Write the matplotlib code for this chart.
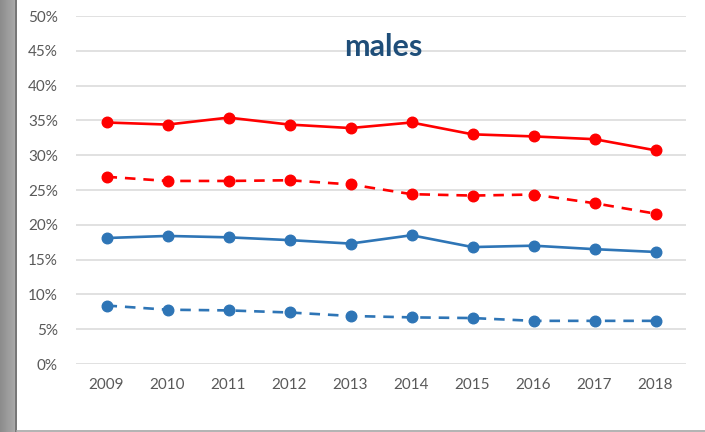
import matplotlib.pyplot as plt
import numpy as np

years = ["2009", "2010", "2011", "2012", "2013", "2014", "2015", "2016", "2017", "2018"]

red_solid = [34.7, 34.4, 35.4, 34.4, 33.9, 34.7, 33.0, 32.7, 32.3, 30.7]
red_dashed = [26.9, 26.3, 26.3, 26.4, 25.8, 24.4, 24.2, 24.35, 23.1, 21.6]
blue_solid = [18.1, 18.4, 18.2, 17.8, 17.3, 18.5, 16.8, 17.0, 16.5, 16.1]
blue_dashed = [8.4, 7.8, 7.7, 7.4, 6.9, 6.7, 6.6, 6.2, 6.2, 6.2]

yticks = [0, 5, 10, 15, 20, 25, 30, 35, 40, 45, 50]

plt.rcParams['font.family'] = ['Lato', 'DejaVu Sans']

fig = plt.figure(figsize=(7.05, 4.32), dpi=100)

# grey strip on the left edge
strip = fig.add_axes([0, 0, 17 / 705, 1])
grad = np.linspace(0.55, 0.68, 50).reshape(1, -1)
strip.imshow(grad, aspect="auto", cmap="gray", vmin=0, vmax=1, extent=[0, 1, 0, 1])
strip.axvline(0.97, color="#6e6e6e", lw=1.2)
strip.axis("off")

# bottom border
fig.add_artist(plt.Line2D([17 / 705, 1], [1.5 / 432, 1.5 / 432], color="#a6a6a6", lw=1.2))

ax = fig.add_axes([76 / 705, 1 - 364 / 432, 610 / 705, 348 / 432])
x = np.arange(len(years))

lw = 1.9
ms = 7.6
ax.plot(x, red_solid, color="#ff0000", lw=lw, marker="o", ms=ms, zorder=3)
ax.plot(x, red_dashed, color="#ff0000", lw=lw, marker="o", ms=ms, dashes=(4, 3), zorder=3)
ax.plot(x, blue_solid, color="#2e75b6", lw=lw, marker="o", ms=ms, zorder=3)
ax.plot(x, blue_dashed, color="#2e75b6", lw=lw, marker="o", ms=ms, dashes=(4, 3), zorder=3)

ax.set_xlim(-0.5, len(years) - 0.5)
ax.set_ylim(0, 50)
ax.set_yticks(yticks)
ax.set_yticklabels([f"{t}%" for t in yticks])
ax.set_xticks(x)
ax.set_xticklabels(years)
ax.grid(axis="y", color="#d9d9d9", lw=1.1)
ax.set_axisbelow(True)
for s in ax.spines.values():
    s.set_visible(False)
ax.tick_params(length=0, labelsize=11, colors="#595959")
ax.tick_params(axis="y", pad=13)
ax.tick_params(axis="x", pad=10)

ax.text(0.503, 0.91, "males", transform=ax.transAxes, ha="center", va="center",
        fontsize=22, fontweight="bold", color="#1f4e79")

fig.savefig("out.png", dpi=100)
